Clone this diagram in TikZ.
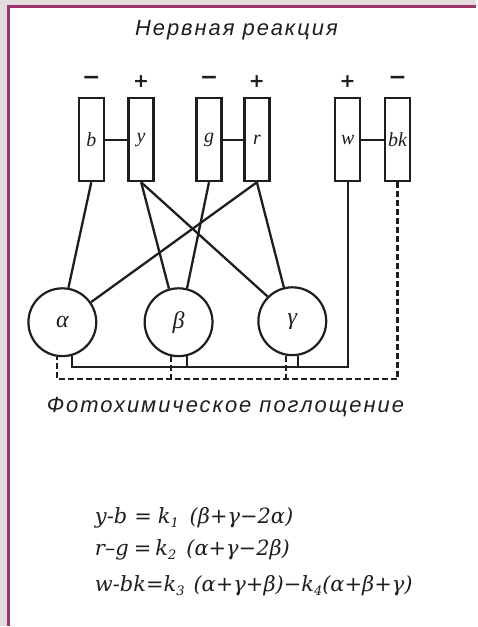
\documentclass[tikz,border=0pt]{standalone}
\usepackage{fontspec}
\usetikzlibrary{calc}
\newfontfamily\rufont[LetterSpace=9]{Liberation Sans}
\newfontfamily\boxfont{Liberation Serif}
\newfontfamily\eqfont{DejaVu Serif}
\newfontfamily\signfont{DejaVu Sans}
\newcommand{\lowidx}[1]{\raisebox{-0.35ex}{\fontsize{13}{13}\selectfont #1}}
\definecolor{ink}{RGB}{30,30,30}
\definecolor{framec}{RGB}{158,52,108}
\definecolor{outbg}{RGB}{229,221,221}
\begin{document}
\begin{tikzpicture}[x=1pt,y=-1pt,
  cell/.style={draw=ink, line width=2.4pt, minimum width=25pt, minimum height=83pt, inner sep=0pt, text=ink, font=\boxfont\itshape\fontsize{20}{20}\selectfont},
  pig/.style={circle, draw=ink, line width=2.2pt, minimum size=68pt, inner sep=0pt, text=ink, font=\boxfont\itshape\fontsize{24}{24}\selectfont},
  plus/.style={text=ink, inner sep=0pt, font=\signfont\bfseries\fontsize{19}{19}\selectfont},
  minus/.style={text=ink, inner sep=0pt, font=\signfont\bfseries\fontsize{22}{22}\selectfont},
  wire/.style={draw=ink, line width=2.3pt},
  dwire/.style={wire, dash pattern=on 6pt off 3pt},
  lbl/.style={text=ink, inner sep=0pt, font=\rufont\itshape\fontsize{22}{22}\selectfont},
  eqn/.style={text=ink, inner sep=0pt, anchor=west, font=\eqfont\itshape\fontsize{21}{21}\selectfont}]
\fill[outbg] (0,0) rectangle (477,627);
\fill[white] (8.5,6.5) rectangle (477,627);
\draw[framec, line width=3pt] (8.5,627) -- (8.5,6.5) -- (477,6.5);
\useasboundingbox (0,0) rectangle (477,627);

\node[lbl] (title) at (237,30) {Нервная реакция};

\node[cell] (b) at (91.5,140) {b};
\node[cell] (y) at (141.5,140) {y};
\node[cell] (g) at (209.5,140) {g};
\node[cell] (r) at (257.5,140) {r};
\node[cell] (w) at (348.5,140) {w};
\node[cell] (bk) at (398.5,140) {bk};

\node[minus] (sb) at (91.5,81) {−};
\node[plus] (sy) at (141.5,82) {+};
\node[minus] (sg) at (209.5,81) {−};
\node[plus] (sr) at (257.5,82) {+};
\node[plus] (sw) at (348.5,82) {+};
\node[minus] (sbk) at (398.5,81) {−};

\draw[wire] (b) -- (y);
\draw[wire] (g) -- (r);
\draw[wire] (w) -- (bk);

\node[pig] (al) at (62.5,323) {α};
\node[pig] (be) at (179,323) {β};
\node[pig] (ga) at (293,322) {γ};

\draw[wire] (b.south) -- (al.80);
\draw[wire] (y.south) -- (be.106);
\draw[wire] (y.south) -- (ga.135);
\draw[wire] (g.south) -- (be.76);
\draw[wire] (r.south) -- (al.35);
\draw[wire] (r.south) -- (ga.104);

\coordinate (wbus) at (0,368);
\coordinate (kbus) at (0,380);
\draw[wire] (w.south) |- (al.-74 |- wbus) -- (al.-74);
\draw[wire] (be.-76) -- (be.-76 |- wbus);
\draw[wire] (ga.-81) -- (ga.-81 |- wbus);
\draw[dwire] (bk.south) |- (al.-99 |- kbus) -- (al.-99);
\draw[dwire] (be.-102) -- (be.-102 |- kbus);
\draw[dwire] (ga.-100) -- (ga.-100 |- kbus);

\node[lbl] (cap) at (226,408) {Фотохимическое поглощение};

\node[eqn] (e1) at (95,519) {y-b\hspace{7pt}=\hspace{6pt}k\lowidx{1}\hspace{11pt}(β+γ−2α)};
\node[eqn] (e2) at (95,551) {r–g\hspace{5pt}=\hspace{4pt}k\lowidx{2}\hspace{10pt}(α+γ−2β)};
\node[eqn] (e3) at (95,587) {w-bk=k\lowidx{3}\hspace{9pt}(α+γ+β)−k\lowidx{4}(α+β+γ)};
\end{tikzpicture}
\end{document}
